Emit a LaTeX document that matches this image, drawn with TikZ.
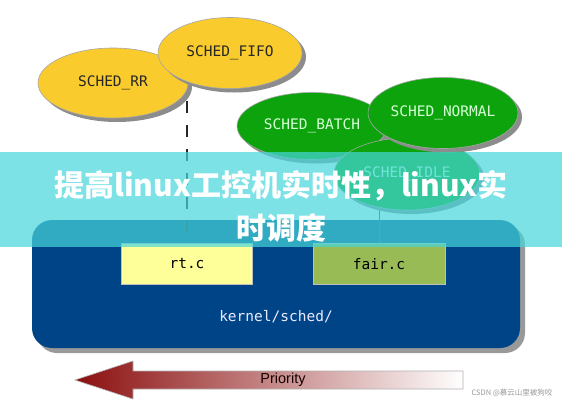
\documentclass[tikz,border=0pt]{standalone}
\usepackage{fontspec}
\newfontfamily\monof{DejaVu Sans Mono}
\newfontfamily\cjk{Noto Sans CJK SC}
\newfontfamily\arialf{Liberation Sans}
\usetikzlibrary{shapes.geometric,shadows}
\definecolor{yel}{RGB}{249,203,45}
\definecolor{grn}{RGB}{12,163,12}
\definecolor{grntxt}{RGB}{215,255,215}
\definecolor{kblue}{RGB}{0,68,136}
\definecolor{rtfill}{RGB}{255,255,153}
\definecolor{fairfill}{RGB}{153,187,85}
\definecolor{dred}{RGB}{139,14,14}
\definecolor{band}{RGB}{70,215,220}
\tikzset{
  shad/.style={drop shadow={shadow xshift=4pt,shadow yshift=-4pt,fill=black!45,opacity=1}},
  yell/.style={ellipse,shad,fill=yel,draw=black!35,line width=0.6pt,inner sep=0pt,
    font=\monof\fontsize{14.5}{16}\selectfont,text=black!85},
  gell/.style={ellipse,shad,fill=grn,draw=black!35,line width=0.6pt,inner sep=0pt,
    font=\monof\fontsize{14.5}{16}\selectfont,text=grntxt},
  filebox/.style={rectangle,draw=black!25,line width=0.6pt,inner sep=0pt,
    minimum height=41pt,font=\monof\fontsize{14.5}{16}\selectfont,text=black},
  kernbox/.style={rectangle,rounded corners=20pt,fill=kblue,
    drop shadow={shadow xshift=5pt,shadow yshift=-5pt,fill=black!40,opacity=1},
    minimum width=488pt,minimum height=128pt},
  link/.style={black!85,line width=1.8pt},
}
\begin{document}
\begin{tikzpicture}[x=1pt,y=-1pt]
\useasboundingbox (0,0) rectangle (562,400);
\fill[white] (0,0) rectangle (562,400);
% kernel box
\node[kernbox] (kern) at (276,284) {};
\node[font=\monof\fontsize{14.5}{16}\selectfont,text=blue!8] (ktext) at (276,317) {kernel/sched/};
\node[filebox,fill=rtfill,minimum width=131pt] (rt) at (187,264) {rt.c};
\node[filebox,fill=fairfill,minimum width=132pt] (fair) at (379,264) {fair.c};
% ellipse centres
\coordinate (rrc) at (113,83);
\coordinate (fifoc) at (230,53);
\coordinate (batchc) at (312,126);
\coordinate (idlec) at (407,174);
\coordinate (normalc) at (443,113);
% connectors
\draw[link,dash pattern=on 12pt off 12pt] (rt.north |- fifoc) -- (rt.north);
\draw[black!70,line width=1pt] (fair.north |- idlec) -- (fair.north);
% ellipses
\node[yell,minimum width=150pt,minimum height=70pt] (rr) at (rrc) {SCHED\_RR};
\node[yell,minimum width=144pt,minimum height=71pt] (fifo) at (fifoc) {SCHED\_FIFO};
\node[gell,minimum width=150pt,minimum height=67pt] (batch) at (batchc) {SCHED\_BATCH};
\node[gell,minimum width=146pt,minimum height=72pt] (idle) at (idlec) {SCHED\_IDLE};
\node[gell,minimum width=150pt,minimum height=71pt] (normal) at (normalc) {SCHED\_NORMAL};
% priority arrow
\path[left color=dred,right color=white,draw=black!30,line width=0.6pt]
  (75,380) -- (133,361) -- (133,371) -- (463,371) -- (463,389) -- (133,389) -- (133,399) -- cycle;
\node[font=\arialf\fontsize{14.5}{16}\selectfont,text=black!80!red!40!black] (prio) at (283,380) {Priority};
% overlay band
\fill[band,opacity=0.7] (0,152) rectangle (562,247);
\node[font=\cjk\bfseries\fontsize{30}{43}\selectfont,text=white,align=center] (title) at (281,206)
  {提高linux工控机实时性，linux实\\时调度};
% watermark
\node[font=\cjk\fontsize{7.5}{9}\selectfont,text=black!40,anchor=east] (wm) at (556,393) {CSDN @慕云山里被狗咬};
\end{tikzpicture}
\end{document}
